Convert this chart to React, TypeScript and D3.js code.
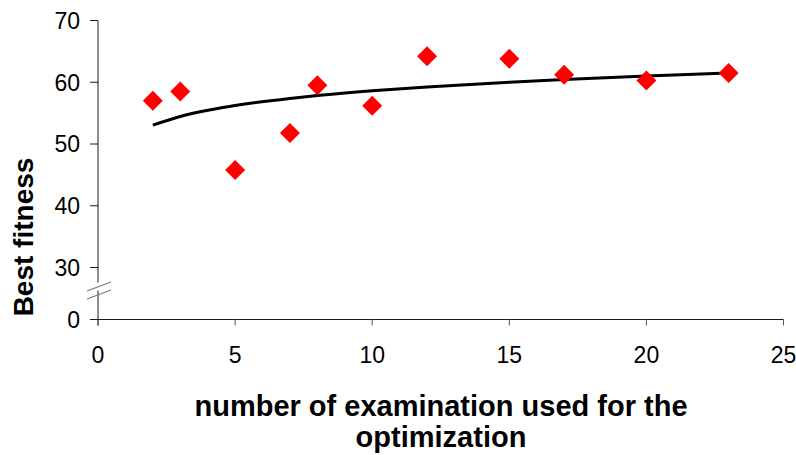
import React, { useEffect, useRef } from "react";
import * as d3 from "d3";

// examinations used vs. best fitness
const examinations = [2, 3, 5, 7, 8, 10, 12, 15, 17, 20, 23];
const bestFitness = [57.0, 58.5, 45.8, 51.8, 59.5, 56.2, 64.2, 63.8, 61.2, 60.3, 61.5];
const xTicks = [0, 5, 10, 15, 20, 25];
const yTicks = [0, 30, 40, 50, 60, 70];

const App: React.FC = () => {
  const svgRef = useRef<SVGSVGElement | null>(null);

  useEffect(() => {
    const width = 796;
    const height = 455;
    const svg = d3.select(svgRef.current);
    svg.selectAll("*").remove();
    svg.attr("width", width).attr("height", height).attr("viewBox", [0, 0, width, height]);

    const font = "'Liberation Sans', Arial, sans-serif";

    const x = d3.scaleLinear().domain([0, 25]).range([98, 783.5]);
    // broken axis: 0..30 squeezed into the bottom strip
    const y = d3.scaleLinear().domain([0, 30, 70]).range([319.5, 267.5, 20.5]);

    // logarithmic trend fitted to the points
    const lx = examinations.map((v) => Math.log(v));
    const mx = d3.mean(lx) as number;
    const my = d3.mean(bestFitness) as number;
    const b =
      d3.sum(lx, (v, i) => (v - mx) * (bestFitness[i] - my)) /
      d3.sum(lx, (v) => (v - mx) * (v - mx));
    const a = my - b * mx;

    // axes
    const axisColor = "#1a1a1a";
    svg
      .append("line")
      .attr("x1", x(0))
      .attr("x2", x(25))
      .attr("y1", y(0))
      .attr("y2", y(0))
      .attr("stroke", axisColor);
    svg
      .append("line")
      .attr("x1", x(0))
      .attr("x2", x(0))
      .attr("y1", y(70))
      .attr("y2", y(0) + 6)
      .attr("stroke", axisColor);

    svg
      .selectAll(".ytick")
      .data(yTicks)
      .enter()
      .append("line")
      .attr("x1", x(0) - 8)
      .attr("x2", x(0))
      .attr("y1", (d) => y(d))
      .attr("y2", (d) => y(d))
      .attr("stroke", axisColor);

    svg
      .selectAll(".ylab")
      .data(yTicks)
      .enter()
      .append("text")
      .attr("x", x(0) - 18)
      .attr("y", (d) => y(d))
      .attr("dy", "0.36em")
      .attr("text-anchor", "end")
      .style("font", `23px ${font}`)
      .attr("fill", "#000")
      .text((d) => d);

    svg
      .selectAll(".xtick")
      .data(xTicks)
      .enter()
      .append("line")
      .attr("x1", (d) => x(d))
      .attr("x2", (d) => x(d))
      .attr("y1", y(0))
      .attr("y2", y(0) + 6)
      .attr("stroke", "#555");

    svg
      .selectAll(".xlab")
      .data(xTicks)
      .enter()
      .append("text")
      .attr("x", (d) => x(d))
      .attr("y", 363)
      .attr("text-anchor", "middle")
      .style("font", `23px ${font}`)
      .attr("fill", "#000")
      .text((d) => d);

    // axis break marks
    const by = 290;
    svg
      .append("polygon")
      .attr("points", `88,${by + 4} 111,${by - 4} 111,${by + 4} 88,${by + 12}`)
      .attr("transform", "translate(0,-8)")
      .attr("fill", "#fff");
    [-4, 4].forEach((o) => {
      svg
        .append("line")
        .attr("x1", 87)
        .attr("y1", by + o + 5)
        .attr("x2", 111)
        .attr("y2", by + o - 4)
        .attr("stroke", "#777")
        .attr("stroke-width", 1.2);
    });

    // trend line
    const line = d3
      .line<number>()
      .x((d) => x(d))
      .y((d) => y(a + b * Math.log(d)))
      .curve(d3.curveMonotoneX);
    svg
      .append("path")
      .attr("d", line(examinations))
      .attr("fill", "none")
      .attr("stroke", "#000")
      .attr("stroke-width", 3);

    // points
    const diamond = d3.symbol(d3.symbolSquare, 200);
    svg
      .selectAll(".pt")
      .data(examinations)
      .enter()
      .append("path")
      .attr("d", diamond)
      .attr("transform", (d, i) => `translate(${x(d)},${y(bestFitness[i])}) rotate(45)`)
      .attr("fill", "#ff0000");

    // axis titles
    svg
      .append("text")
      .attr("transform", `translate(33,237) rotate(-90)`)
      .attr("text-anchor", "middle")
      .style("font", `bold 28px ${font}`)
      .attr("fill", "#000")
      .text("Best fitness");

    svg
      .append("text")
      .attr("x", 441)
      .attr("y", 416)
      .attr("text-anchor", "middle")
      .style("font", `bold 29px ${font}`)
      .attr("fill", "#000")
      .text("number of examination used for the");
    svg
      .append("text")
      .attr("x", 441)
      .attr("y", 447)
      .attr("text-anchor", "middle")
      .style("font", `bold 29px ${font}`)
      .attr("fill", "#000")
      .text("optimization");
  }, []);

  return (
    <div style={{ position: "absolute", left: 0, top: 0 }}>
      <svg ref={svgRef}></svg>
    </div>
  );
};

export default App;
